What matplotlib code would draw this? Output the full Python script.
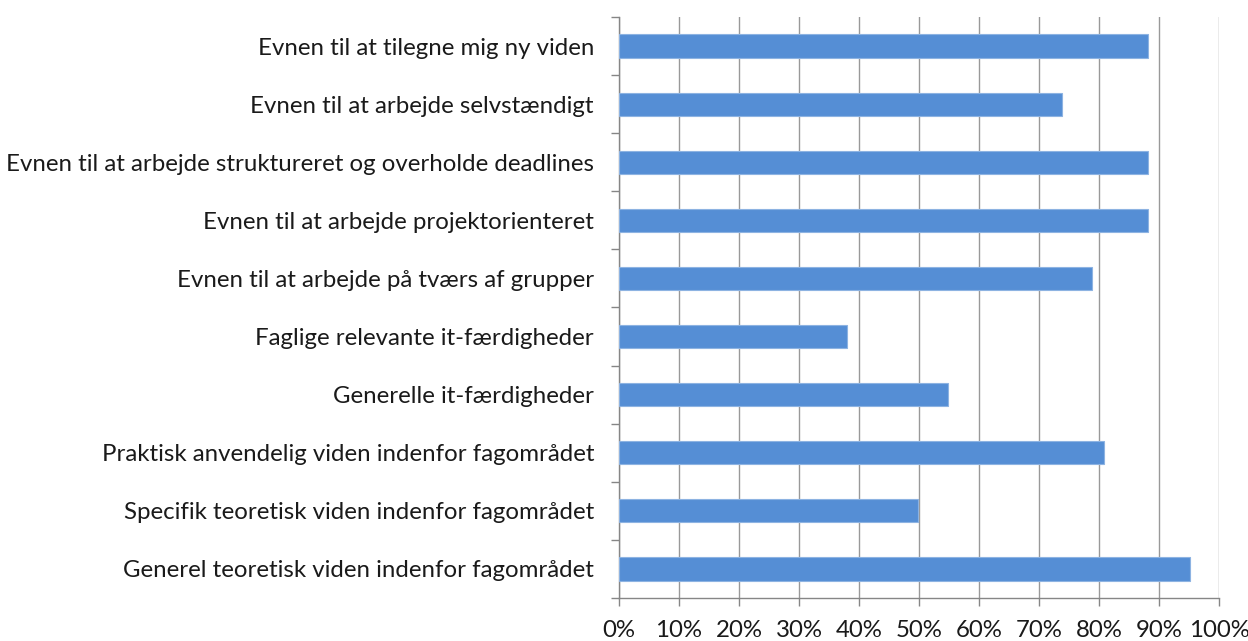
import matplotlib
matplotlib.use("Agg")
import matplotlib.pyplot as plt
from matplotlib.ticker import FuncFormatter, FixedLocator

categories = [
    "Evnen til at tilegne mig ny viden",
    "Evnen til at arbejde selvstændigt",
    "Evnen til at arbejde struktureret og overholde deadlines",
    "Evnen til at arbejde projektorienteret",
    "Evnen til at arbejde på tværs af grupper",
    "Faglige relevante it-færdigheder",
    "Generelle it-færdigheder",
    "Praktisk anvendelig viden indenfor fagområdet",
    "Specifik teoretisk viden indenfor fagområdet",
    "Generel teoretisk viden indenfor fagområdet",
]
values = [88.2, 73.8, 88.2, 88.2, 78.8, 38.0, 54.8, 80.9, 49.8, 95.2]
xticks = [0, 10, 20, 30, 40, 50, 60, 70, 80, 90, 100]

plt.rcParams['font.family'] = ['Lato', 'DejaVu Sans']

fig = plt.figure(figsize=(12.48, 6.41), dpi=100)
ax = fig.add_axes([619/1248, 1 - 598/641, 600/1248, (598-17)/641])

n = len(categories)
ypos = list(range(n))
ax.barh(ypos, values, height=0.4, color='#558ED5', edgecolor='#8DB3E2', linewidth=0.8, zorder=3)
ax.set_ylim(n - 0.5, -0.5)
ax.set_xlim(0, 100)

ax.set_yticks(ypos)
ax.set_yticklabels(categories, fontsize=17.3, color='#1a1a1a')
ax.yaxis.set_minor_locator(FixedLocator([i - 0.5 for i in range(n + 1)]))
ax.tick_params(axis='y', which='major', length=0, pad=18)
ax.tick_params(axis='y', which='minor', length=6, color='#868686', width=1)

ax.xaxis.set_major_locator(FixedLocator(xticks))
ax.xaxis.set_major_formatter(FuncFormatter(lambda v, p: f"{int(v)}%"))
ax.tick_params(axis='x', which='major', length=6, color='#868686', width=1, labelsize=17.3, labelcolor='#1a1a1a', pad=10)

ax.grid(axis='x', color='#999999', linewidth=1, zorder=0)
for s in ['top', 'right']:
    ax.spines[s].set_visible(False)
for s in ['left', 'bottom']:
    ax.spines[s].set_color('#868686')
    ax.spines[s].set_linewidth(1)

fig.savefig("out.png", dpi=100, facecolor='white')
